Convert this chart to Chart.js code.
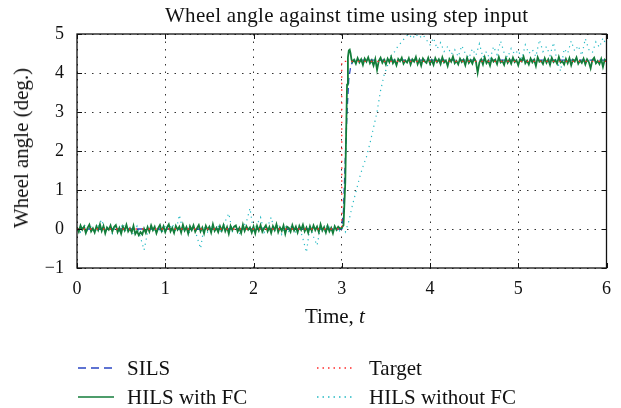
<!DOCTYPE html>
<html>
<head>
<meta charset="utf-8">
<script src="https://cdn.jsdelivr.net/npm/chart.js@4.4.0/dist/chart.umd.min.js"></script>
<style>
  body { margin: 0; background: #fff; }
  #wrap { position: relative; width: 621px; height: 408px; overflow: hidden; font-family: "Liberation Serif", serif; color: #111; }
  canvas { position: absolute; left: 0; top: 0; }
  .lbl { position: absolute; white-space: nowrap; font-size: 21px; line-height: 24px; }
  #title { left: 165px; top: 3px; letter-spacing: 0.3px; }
  #xtitle { left: 305px; top: 304px; }
  #ytitle { left: 21px; top: 148px; transform: translate(-50%, -50%) rotate(-90deg); }
  .leg { position: absolute; font-size: 21px; line-height: 24px; white-space: nowrap; }
  .leg svg { position: absolute; top: 9px; }
</style>
</head>
<body>
<div id="wrap">
  <canvas id="chart" width="621" height="408"></canvas>
  <div class="lbl" id="title">Wheel angle against time using step input</div>
  <div class="lbl" id="xtitle">Time, <i>t</i></div>
  <div class="lbl" id="ytitle">Wheel angle (deg.)</div>
  <div id="legend"></div>
</div>
<script>
// Axis ticks
const xTicks = [0, 1, 2, 3, 4, 5, 6];
const yTicks = [-1, 0, 1, 2, 3, 4, 5];

// Sampling steps of the noisy recorded runs (s)
const fcStep = 0.02;
const noFcStep = 0.04;

// Target (step input)
const targetTimes = [0, 3.0, 3.0, 6];
const targetValues = [0, 0, 4.3, 4.3];

// SILS response
const silsTimes = [0, 3.0, 3.02, 3.04, 3.06, 3.08, 3.10, 3.12, 3.15, 6];
const silsValues = [0, 0, 0.5, 1.8, 3.0, 3.85, 4.15, 4.28, 4.33, 4.33];

// HILS with FC: before step (t = 0 .. 2.98), step, after step (t = 3.14 .. 6.0)
const hilsFcPre = [
  0.04, -0.07, 0.09, -0.02, 0.06, -0.10, 0.03, 0.11, -0.06, 0.02,
  -0.09, 0.07, -0.03, 0.12, -0.05, 0.08, -0.11, 0.04, -0.02, 0.09,
  -0.07, 0.05, 0.10, -0.08, 0.03, -0.12, 0.06, -0.04, 0.11, -0.06,
  0.02, -0.09, 0.08, -0.13, -0.05, -0.16, -0.08, -0.14, 0.01, -0.10,
  0.05, -0.07, 0.09, -0.03, 0.06, -0.11, 0.02, 0.10, -0.05, 0.07,
  -0.08, 0.04, 0.12, -0.06, 0.03, -0.10, 0.08, -0.02, 0.06, -0.09,
  0.11, -0.04, 0.05, -0.12, 0.07, -0.03, 0.09, -0.07, 0.02, 0.10,
  -0.06, 0.04, -0.11, 0.08, -0.02, 0.06, -0.09, 0.12, -0.05, 0.03,
  -0.08, 0.07, -0.04, 0.10, -0.06, 0.05, -0.12, 0.08, -0.03, 0.06,
  0.09, -0.07, 0.03, -0.10, 0.11, -0.05, 0.07, -0.02, 0.04, -0.09,
  0.06, -0.11, 0.08, -0.04, 0.10, -0.07, 0.02, 0.09, -0.06, 0.05,
  -0.10, 0.07, -0.03, 0.12, -0.08, 0.04, -0.05, 0.09, -0.12, 0.06,
  0.03, -0.07, 0.10, -0.04, 0.06, -0.09, 0.08, -0.02, 0.11, -0.06,
  0.04, -0.10, 0.07, -0.05, 0.09, -0.03, 0.06, -0.08, 0.12, -0.04,
  0.05, -0.09, 0.08, -0.06, 0.03, -0.11, 0.07, -0.02, 0.06, 0.01
];
const hilsFcStepTimes = [3.0, 3.02, 3.04, 3.05, 3.06, 3.07, 3.08, 3.09, 3.10, 3.11, 3.12];
const hilsFcStepValues = [0.03, 0.1, 1.2, 2.5, 3.7, 4.4, 4.58, 4.6, 4.5, 4.35, 4.28];
const hilsFcPost = [
  4.34, 4.24, 4.38, 4.27, 4.35, 4.21, 4.37, 4.29, 4.40, 4.25,
  4.33, 4.19, 4.36, 4.08, 4.31, 4.39, 4.26, 4.34, 4.22, 4.37,
  4.28, 4.41, 4.25, 4.33, 4.20, 4.36, 4.30, 4.39, 4.24, 4.32,
  4.27, 4.38, 4.22, 4.35, 4.29, 4.41, 4.23, 4.34, 4.19, 4.37,
  4.30, 4.26, 4.39, 4.24, 4.33, 4.21, 4.38, 4.28, 4.35, 4.23,
  4.40, 4.27, 4.32, 4.18, 4.36, 4.29, 4.42, 4.25, 4.31, 4.22,
  4.37, 4.28, 4.34, 4.20, 4.39, 4.26, 4.33, 4.24, 4.38, 4.30,
  4.01, 4.27, 4.35, 4.22, 4.40, 4.25, 4.32, 4.19, 4.37, 4.29,
  4.34, 4.23, 4.41, 4.27, 4.31, 4.21, 4.38, 4.26, 4.35, 4.24,
  4.39, 4.28, 4.33, 4.20, 4.36, 4.30, 4.42, 4.25, 4.32, 4.22,
  4.37, 4.27, 4.34, 4.18, 4.40, 4.29, 4.31, 4.23, 4.38, 4.26,
  4.35, 4.21, 4.39, 4.28, 4.33, 4.24, 4.41, 4.27, 4.30, 4.22,
  4.36, 4.25, 4.38, 4.20, 4.34, 4.29, 4.40, 4.24, 4.32, 4.26,
  4.37, 4.22, 4.35, 4.28, 4.12, 4.33, 4.39, 4.25, 4.31, 4.23,
  4.36, 4.16, 4.34, 4.30
];

// HILS without FC: before step (t = 0 .. 2.96), slow rise, after (t = 4.0 .. 6.0)
const hilsNoFcPre = [
  0.05, -0.08, 0.12, -0.04, 0.06, -0.10, 0.08, 0.24, -0.06, 0.03,
  -0.12, 0.09, -0.05, 0.14, -0.09, 0.05, -0.15, 0.07, -0.22, -0.54,
  -0.08, 0.10, -0.06, 0.04, -0.11, 0.08, -0.03, 0.13, -0.07, 0.36,
  -0.05, 0.06, -0.12, 0.09, -0.20, -0.50, 0.05, -0.08, 0.11, -0.04,
  0.07, -0.10, 0.20, 0.40, -0.06, 0.08, -0.13, 0.05, 0.18, 0.53,
  -0.07, 0.12, 0.30, -0.09, 0.06, 0.30, -0.05, 0.10, -0.14, 0.07,
  -0.06, 0.11, -0.10, 0.05, -0.25, -0.60, 0.08, -0.20, -0.42, 0.06,
  -0.09, 0.12, -0.05, 0.08, -0.10
];
const hilsNoFcRiseTimes = [
  3.00, 3.04, 3.08, 3.12, 3.16, 3.20, 3.24, 3.28, 3.32, 3.36,
  3.40, 3.44, 3.48, 3.52, 3.56, 3.60, 3.64, 3.68, 3.72, 3.76,
  3.80, 3.84, 3.88, 3.92, 3.96
];
const hilsNoFcRiseValues = [
  0.04, -0.08, 0.2, 0.6, 0.95, 1.3, 1.6, 1.85, 2.2, 2.6,
  3.0, 3.55, 3.95, 4.2, 4.45, 4.55, 4.7, 4.8, 4.92, 5.0,
  4.88, 5.0, 4.9, 4.98, 4.85
];
const hilsNoFcPost = [
  4.72, 4.90, 4.62, 4.78, 4.55, 4.68, 4.48, 4.60, 4.42, 4.70,
  4.50, 4.38, 4.62, 4.45, 4.75, 4.40, 4.55, 4.35, 4.68, 4.47,
  4.82, 4.52, 4.40, 4.63, 4.48, 4.58, 4.36, 4.72, 4.50, 4.60,
  4.42, 4.85, 4.55, 4.68, 4.45, 4.78, 4.30, 4.05, 4.62, 4.50,
  4.82, 4.56, 4.70, 4.45, 4.88, 4.60, 4.52, 4.80, 4.66, 4.90,
  4.70
];

function gridTimes(start, step, n) {
  return Array.from({ length: n }, (_, i) => +(start + i * step).toFixed(2));
}
function pts(times, values) {
  return times.map((t, i) => ({ x: t, y: values[i] }));
}

const hilsFcData = [].concat(
  pts(gridTimes(0, fcStep, hilsFcPre.length), hilsFcPre),
  pts(hilsFcStepTimes, hilsFcStepValues),
  pts(gridTimes(3.14, fcStep, hilsFcPost.length), hilsFcPost)
);
const hilsNoFcData = [].concat(
  pts(gridTimes(0, noFcStep, hilsNoFcPre.length), hilsNoFcPre),
  pts(hilsNoFcRiseTimes, hilsNoFcRiseValues),
  pts(gridTimes(4.0, noFcStep, hilsNoFcPost.length), hilsNoFcPost)
);

const colors = { sils: '#2a45c4', target: '#ff2a2a', fc: '#137d3a', nofc: '#26bac4' };

// Frame round the plot plus short inward ticks on all four sides
const frameTicks = {
  id: 'frameTicks',
  afterDatasetsDraw(chart) {
    const { ctx, chartArea: a, scales: { x, y } } = chart;
    ctx.save();
    ctx.strokeStyle = '#111';
    ctx.lineWidth = 1.3;
    ctx.strokeRect(a.left, a.top, a.right - a.left, a.bottom - a.top);
    ctx.lineWidth = 1;
    ctx.beginPath();
    x.ticks.forEach(t => {
      const px = Math.round(x.getPixelForValue(t.value)) + 0.5;
      ctx.moveTo(px, a.bottom); ctx.lineTo(px, a.bottom - 5);
      ctx.moveTo(px, a.top); ctx.lineTo(px, a.top + 5);
    });
    y.ticks.forEach(t => {
      const py = Math.round(y.getPixelForValue(t.value)) + 0.5;
      ctx.moveTo(a.left, py); ctx.lineTo(a.left + 5, py);
      ctx.moveTo(a.right, py); ctx.lineTo(a.right - 5, py);
    });
    ctx.stroke();
    ctx.restore();
  }
};

new Chart(document.getElementById('chart'), {
  type: 'line',
  data: {
    datasets: [
      { label: 'Target', data: pts(targetTimes, targetValues), borderColor: colors.target,
        borderWidth: 1.3, borderDash: [1.5, 5], order: 0 },
      { label: 'HILS with FC', data: hilsFcData, borderColor: colors.fc,
        borderWidth: 1.8, order: 1 },
      { label: 'HILS without FC', data: hilsNoFcData, borderColor: colors.nofc,
        borderWidth: 1.2, borderDash: [1.2, 4], order: 2 },
      { label: 'SILS', data: pts(silsTimes, silsValues), borderColor: colors.sils,
        borderWidth: 1.3, borderDash: [6, 4], order: 3 }
    ]
  },
  options: {
    responsive: false,
    animation: false,
    events: [],
    layout: { padding: { left: 0, top: 34, right: 14, bottom: 100 } },
    elements: { point: { radius: 0 }, line: { tension: 0, fill: false } },
    plugins: { legend: { display: false }, tooltip: { enabled: false } },
    scales: {
      x: {
        type: 'linear', min: 0, max: 6,
        afterBuildTicks: s => { s.ticks = xTicks.map(v => ({ value: v })); },
        afterFit: s => { s.height = 40; },
        grid: { color: '#333', lineWidth: 1, drawTicks: false },
        border: { display: false, dash: [1.5, 6] },
        ticks: { padding: 10, color: '#111', font: { family: 'Liberation Serif', size: 18 } }
      },
      y: {
        type: 'linear', min: -1, max: 5,
        afterBuildTicks: s => { s.ticks = yTicks.map(v => ({ value: v })); },
        afterFit: s => { s.width = 77; },
        grid: { color: '#333', lineWidth: 1, drawTicks: false },
        border: { display: false, dash: [1.5, 6] },
        ticks: { padding: 13, color: '#111', font: { family: 'Liberation Serif', size: 18 },
          callback: v => v < 0 ? '\u2212' + Math.abs(v) : String(v) }
      }
    }
  },
  plugins: [frameTicks]
});

// Legend: two columns below the plot
const legendItems = [
  { text: 'SILS', color: colors.sils, dash: '8 5', x: 78, tx: 127, y: 368 },
  { text: 'Target', color: colors.target, dash: '1.5 4', x: 317, tx: 369, y: 368 },
  { text: 'HILS with FC', color: colors.fc, dash: '', x: 78, tx: 127, y: 397 },
  { text: 'HILS without FC', color: colors.nofc, dash: '1.5 4', x: 317, tx: 369, y: 397 }
];
const legend = document.getElementById('legend');
legendItems.forEach(it => {
  const d = document.createElement('div');
  d.className = 'leg';
  d.style.left = it.x + 'px';
  d.style.top = (it.y - 12) + 'px';
  d.innerHTML = '<svg width="36" height="6" style="left:0"><line x1="0" y1="3" x2="36" y2="3" stroke="' + it.color +
    '" stroke-width="1.4"' + (it.dash ? ' stroke-dasharray="' + it.dash + '"' : '') + '/></svg>' +
    '<span style="position:absolute;left:' + (it.tx - it.x) + 'px">' + it.text + '</span>';
  legend.appendChild(d);
});
</script>
</body>
</html>
